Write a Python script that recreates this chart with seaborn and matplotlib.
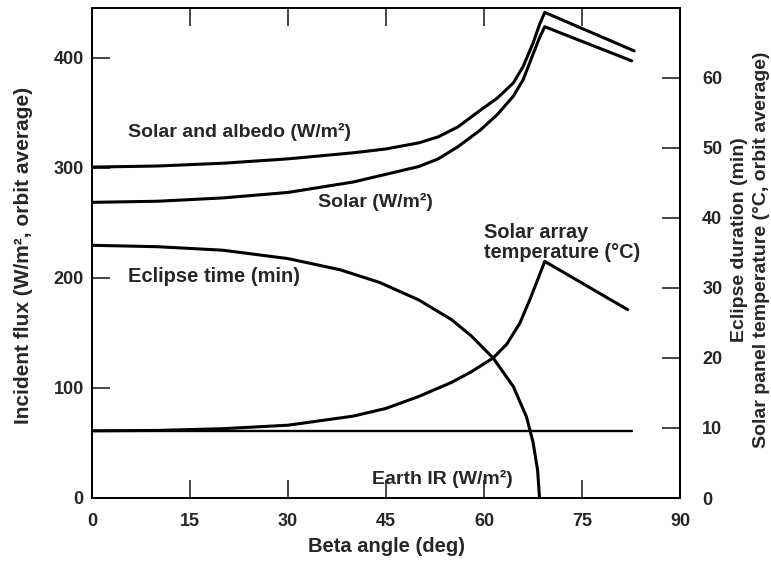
import matplotlib
matplotlib.use("Agg")
import matplotlib.pyplot as plt
import seaborn as sns
import pandas as pd

# ---- data ----
beta_albedo = [0, 10, 20, 30, 40, 45, 50, 53, 56, 59.4, 62, 64.5, 66, 67.5, 68.5, 69.3, 83.0]
solar_albedo = [300.5, 301.5, 304, 308, 313.5, 317, 322.5, 328, 337, 352, 363, 377, 392, 413, 430, 441, 406]

beta_solar = [0, 10, 20, 30, 40, 45, 50, 53, 56, 59.4, 62, 64.5, 66, 67.5, 68.5, 69.3, 82.6]
solar = [268.5, 269.5, 272.5, 277.5, 287, 294, 301, 308, 319, 334, 348, 365, 380, 403, 418, 428, 397]

beta_ir = [0, 82.6]
earth_ir = [61, 61]

beta_eclipse = [0, 10, 20, 30, 38, 44, 50, 55, 58, 61.4, 64.5, 66.5, 67.5, 68.2, 68.5]
eclipse_min = [36.1, 35.9, 35.4, 34.2, 32.6, 30.8, 28.3, 25.5, 23.2, 20.0, 15.9, 11.6, 8.0, 4.0, 0.0]

beta_temp = [0, 10, 20, 30, 40, 45, 50, 55, 58, 61.4, 63.5, 65.5, 67, 68.6, 69.3, 82.0]
temp_c = [9.6, 9.65, 9.9, 10.4, 11.7, 12.8, 14.5, 16.5, 18.0, 20.0, 22.0, 25.0, 28.3, 32.1, 33.8, 26.9]

x_ticks = [0, 15, 30, 45, 60, 75, 90]
left_ticks = [0, 100, 200, 300, 400]
right_ticks = [0, 10, 20, 30, 40, 50, 60]

sns.set_style("ticks")
plt.rcParams['font.family'] = ['Liberation Sans', 'DejaVu Sans']
plt.rcParams['font.weight'] = 'bold'
plt.rcParams['axes.labelweight'] = 'bold'

fig = plt.figure(figsize=(7.71, 5.62), dpi=100)
ax = fig.add_axes([92 / 771, 1 - 498 / 562, (680 - 92) / 771, (498 - 8) / 562])
ax2 = ax.twinx()

lw = 2.2
df_a = pd.DataFrame({"beta": beta_albedo, "v": solar_albedo})
df_s = pd.DataFrame({"beta": beta_solar, "v": solar})
df_ir = pd.DataFrame({"beta": beta_ir, "v": earth_ir})
df_e = pd.DataFrame({"beta": beta_eclipse, "v": eclipse_min})
df_t = pd.DataFrame({"beta": beta_temp, "v": temp_c})

kw = dict(color="black", sort=False, estimator=None, solid_joinstyle='round', solid_capstyle='round')
sns.lineplot(data=df_a, x="beta", y="v", ax=ax, lw=lw, **kw)
sns.lineplot(data=df_s, x="beta", y="v", ax=ax, lw=lw, **kw)
sns.lineplot(data=df_ir, x="beta", y="v", ax=ax, lw=1.7, **kw)
sns.lineplot(data=df_e, x="beta", y="v", ax=ax2, lw=lw, **kw)
sns.lineplot(data=df_t, x="beta", y="v", ax=ax2, lw=lw, **kw)

ax.set_xlim(0, 90)
ax.set_ylim(0, 445)
ax2.set_ylim(0, 70)
ax.set_xticks(x_ticks)
ax.set_yticks(left_ticks)
ax2.set_yticks(right_ticks)

tick_fs = 13
ax.tick_params(axis='x', direction='in', length=13, width=1.2, labelsize=tick_fs, pad=11,
               top=True)
ax.tick_params(axis='y', direction='in', length=13, width=1.2, labelsize=tick_fs, pad=6,
               right=False)
ax2.tick_params(axis='y', direction='in', length=13, width=1.2, labelsize=tick_fs, pad=16)
for a in (ax, ax2):
    for s in a.spines.values():
        s.set_linewidth(1.4)
        s.set_color("black")

ax.set_xlabel("Beta angle (deg)", fontsize=14.5)
ax.xaxis.set_label_coords(0.5, -0.080)
ax.set_ylabel("Incident flux (W/m², orbit average)", fontsize=15)
ax.yaxis.set_label_coords(-0.100, 0.496)
ax2.set_ylabel("")

fs = 14
ax.text(5.5, 332, "Solar and albedo (W/m²)", fontsize=fs, va='center', ha='left')
ax.text(34.6, 269, "Solar (W/m²)", fontsize=fs, va='center', ha='left')
ax.text(5.5, 201, "Eclipse time (min)", fontsize=14.5, va='center', ha='left')
ax.text(60, 232, "Solar array\ntemperature (°C)", fontsize=14.3, va='center', ha='left',
        linespacing=1.05)
ax.text(42.9, 17.3, "Earth IR (W/m²)", fontsize=fs, va='center', ha='left')

fig.text(739 / 771, 1 - 240 / 562, "Eclipse duration (min)", rotation=90, fontsize=14,
         ha='center', va='center', fontweight='bold')
fig.text(761 / 771, 1 - 250 / 562, "Solar panel temperature (°C, orbit average)", rotation=90,
         fontsize=14, ha='center', va='center', fontweight='bold')

fig.savefig("out.png", dpi=100)
